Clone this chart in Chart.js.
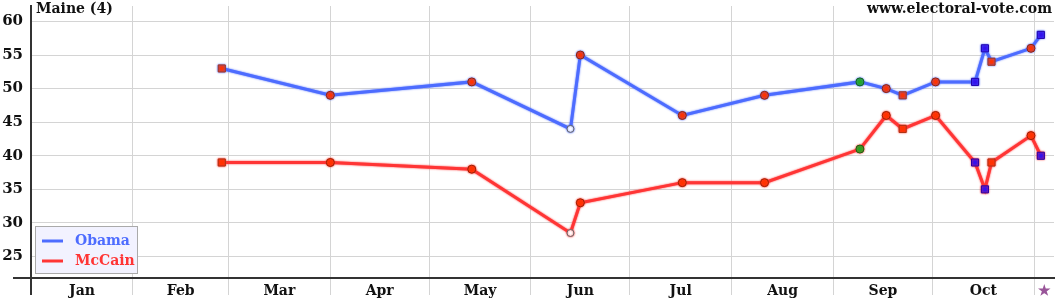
<!DOCTYPE html>
<html>
<head>
<meta charset="utf-8">
<script src="https://cdn.jsdelivr.net/npm/chart.js@4"></script>
<style>
  html, body { margin: 0; padding: 0; background: #fff; }
  #wrap { width: 1060px; height: 300px; }
</style>
</head>
<body>
<div id="wrap"><canvas id="myChart" width="1060" height="300"></canvas></div>
<script>
// poll dates as day of year 2008 (Jan 1 = 0)
var pollDays = [58, 91, 134, 164, 167, 198, 223, 252, 260, 265, 275, 287, 290, 292, 304, 307];
var obama = [53, 49, 51, 44, 55, 46, 49, 51, 50, 49, 51, 51, 56, 54, 56, 58];
var mccain = [39, 39, 38, 28.5, 33, 36, 36, 41, 46, 44, 46, 39, 35, 39, 43, 40];
// kind of poll marker at each date
var pollKind = ["sq", "c", "c", "open", "c", "c", "c", "g", "c", "sq", "c", "b", "b", "sq", "c", "b"];

var monthNames = ["Jan", "Feb", "Mar", "Apr", "May", "Jun", "Jul", "Aug", "Sep", "Oct"];
var monthStarts = [0, 31, 60, 91, 121, 152, 182, 213, 244, 274, 305];
var electionDay = 308;
var yTicks = [25, 30, 35, 40, 45, 50, 55, 60];

var FONT = "'DejaVu Serif', serif";

// marker styles
var markStyle = {
  sq:   { style: "rect",   r: 5,   bg: "#ff3300", bd: "#aa3311" },
  c:    { style: "circle", r: 4,   bg: "#ff3300", bd: "#992200" },
  open: { style: "circle", r: 3.5, bg: "#ffffff", bd: "#666666" },
  g:    { style: "circle", r: 4,   bg: "#22aa22", bd: "#116611" },
  b:    { style: "rect",   r: 5,   bg: "#3311ee", bd: "#2200aa" }
};

function toPts(vals) {
  return pollDays.map(function (d, i) { return { x: d, y: vals[i] }; });
}

function makeSet(label, vals, color) {
  return {
    label: label,
    data: toPts(vals),
    borderColor: color,
    borderWidth: 3,
    tension: 0,
    pointStyle: pollKind.map(function (k) { return markStyle[k].style; }),
    pointRadius: pollKind.map(function (k) { return markStyle[k].r; }),
    pointBackgroundColor: pollKind.map(function (k) { return markStyle[k].bg; }),
    pointBorderColor: pollKind.map(function (k) { return markStyle[k].bd; }),
    pointBorderWidth: 1
  };
}

// x ticks: month boundaries (grid) + month middles (labels) + election day
var xTicks = [];
for (var i = 0; i < monthStarts.length; i++) {
  xTicks.push(monthStarts[i]);
  if (i < monthNames.length) xTicks.push((monthStarts[i] + monthStarts[i + 1]) / 2);
}
xTicks.push(electionDay);

function labelFor(v) {
  if (v === electionDay) return "\u2605";
  for (var i = 0; i < monthNames.length; i++) {
    if (v === (monthStarts[i] + monthStarts[i + 1]) / 2) return monthNames[i];
  }
  return "";
}

function noPad(scale) {
  scale.paddingTop = 0;
  scale.paddingBottom = 0;
  scale.paddingLeft = 0;
  scale.paddingRight = 0;
}

var extras = {
  id: "extras",
  beforeDatasetDraw: function (chart, args) {
    var ctx = chart.ctx;
    ctx.save();
    ctx.shadowColor = chart.data.datasets[args.index].borderColor;
    ctx.shadowBlur = 2;
  },
  afterDatasetDraw: function (chart) {
    chart.ctx.restore();
  },
  afterDraw: function (chart) {
    var ctx = chart.ctx;
    var a = chart.chartArea;
    ctx.save();
    // bottom axis stub left of the y axis
    ctx.strokeStyle = "#333";
    ctx.lineWidth = 2;
    ctx.beginPath();
    ctx.moveTo(13, a.bottom);
    ctx.lineTo(a.left, a.bottom);
    ctx.stroke();

    ctx.fillStyle = "#111";
    ctx.font = "bold 14px " + FONT;
    ctx.textBaseline = "top";
    ctx.textAlign = "left";
    ctx.fillText("Maine (4)", a.left + 5, 2);
    ctx.textAlign = "right";
    ctx.fillText("www.electoral-vote.com", 1052, 2);

    // legend box
    var bx = 35, by = 226, bw = 102, bh = 47;
    ctx.fillStyle = "#f2f2ff";
    ctx.fillRect(bx, by, bw, bh);
    ctx.strokeStyle = "#aaaaaa";
    ctx.lineWidth = 1;
    ctx.strokeRect(bx + 0.5, by + 0.5, bw, bh);
    ctx.textAlign = "left";
    ctx.textBaseline = "middle";
    chart.data.datasets.forEach(function (ds, k) {
      var yy = by + 15 + k * 20;
      ctx.strokeStyle = ds.borderColor;
      ctx.lineWidth = 3;
      ctx.beginPath();
      ctx.moveTo(42, yy);
      ctx.lineTo(63, yy);
      ctx.stroke();
      ctx.fillStyle = ds.borderColor;
      ctx.fillText(ds.label, 75, yy);
    });
    ctx.restore();
  }
};

var chart = new Chart(document.getElementById("myChart").getContext("2d"), {
  type: "line",
  data: {
    datasets: [
      makeSet("Obama", obama, "#4d6cff"),
      makeSet("McCain", mccain, "#ff3535")
    ]
  },
  options: {
    responsive: false,
    animation: false,
    layout: { padding: { top: 5, right: 6, left: 0, bottom: 0 } },
    plugins: {
      legend: { display: false },
      tooltip: { enabled: false }
    },
    scales: {
      x: {
        type: "linear",
        min: 0,
        max: 311,
        afterBuildTicks: function (scale) {
          scale.ticks = xTicks.map(function (v) { return { value: v }; });
        },
        afterFit: function (scale) { scale.height = 22; noPad(scale); },
        border: { color: "#333", width: 2 },
        grid: {
          tickLength: 17,
          color: function (c) {
            var v = c.tick ? c.tick.value : -1;
            if (v === 0) return "#333";
            return monthStarts.indexOf(v) >= 0 ? "#d4d4d4" : "rgba(0,0,0,0)";
          },
          lineWidth: function (c) {
            return c.tick && c.tick.value === 0 ? 2 : 1;
          }
        },
        ticks: {
          autoSkip: false,
          maxRotation: 0,
          padding: -12,
          font: { family: FONT, size: 14, weight: "bold" },
          color: function (c) {
            return c.tick && c.tick.value === electionDay ? "#995599" : "#111";
          },
          callback: function (v) { return labelFor(v); }
        }
      },
      y: {
        min: 21.8,
        max: 62.3,
        afterBuildTicks: function (scale) {
          scale.ticks = yTicks.map(function (v) { return { value: v }; });
        },
        afterFit: function (scale) { scale.width = 31; noPad(scale); },
        border: { color: "#333", width: 2 },
        grid: { color: "#d4d4d4", drawTicks: false },
        ticks: {
          padding: 8,
          font: { family: FONT, size: 15, weight: "bold" },
          color: "#111"
        }
      }
    }
  },
  plugins: [extras]
});
</script>
</body>
</html>
